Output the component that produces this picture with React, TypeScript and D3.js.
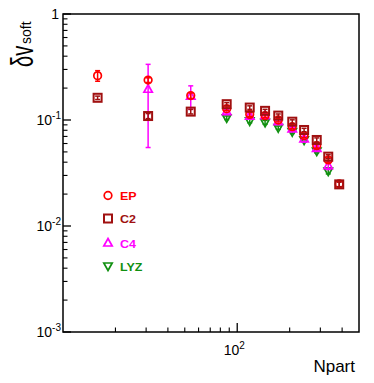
import React from "react";
import * as d3 from "d3";

const npart = [15.8, 30.8, 54.1, 87, 118, 144.5, 172, 207, 242, 286, 333, 385];
const epVal = [0.262, 0.238, 0.17, 0.128, 0.113, 0.11, 0.1, 0.0865, 0.0711, 0.0573, 0.042, 0.0249];
const epErr = [0.03, 0.012, 0.01, 0.005, 0.005, 0.004, 0.004, 0.004, 0.003, 0.003, 0.002, 0.0015];
const c2Val = [0.162, 0.109, 0.12, 0.141, 0.131, 0.122, 0.11, 0.0964, 0.0805, 0.0648, 0.0451, 0.0247];
const c2Err = [0.006, 0.006, 0.006, 0.005, 0.005, 0.004, 0.004, 0.004, 0.003, 0.003, 0.002, 0.0012];
const c4Val = [null, 0.195, 0.168, 0.12, 0.109, 0.11, 0.0965, 0.0822, 0.0662, 0.0541, 0.0371, null];
const c4Err = [null, 0.14, 0.042, 0.006, 0.005, 0.005, 0.005, 0.004, 0.004, 0.003, 0.003, null];
const lyzVal = [null, null, null, 0.105, 0.098, 0.095, 0.0846, 0.0776, 0.0648, 0.051, 0.033, null];
const lyzErr = [null, null, null, 0.004, 0.004, 0.004, 0.003, 0.003, 0.003, 0.002, 0.002, null];

const seriesNames = ["EP", "C2", "C4", "LYZ"];
const seriesColors = ["#ff0000", "#a01010", "#ff00ff", "#109010"];
const yTickLabels = [
  { v: 1, base: "1", sup: "" },
  { v: 0.1, base: "10", sup: "-1" },
  { v: 0.01, base: "10", sup: "-2" },
  { v: 0.001, base: "10", sup: "-3" },
];
const xTickLabels = [{ v: 100, base: "10", sup: "2" }];

const W = 374;
const H = 383;
const M = { left: 63, right: 359, top: 14, bottom: 332 };
const FONT = "'Liberation Sans', Arial, Helvetica, sans-serif";

function Marker({ kind, x, y, color }: { kind: string; x: number; y: number; color: string }) {
  const sw = 1.7;
  if (kind === "EP") return <circle cx={x} cy={y} r={3.8} fill="none" stroke={color} strokeWidth={sw} />;
  if (kind === "C2")
    return <rect x={x - 4} y={y - 4} width={8} height={8} fill="none" stroke={color} strokeWidth={2} />;
  if (kind === "C4") {
    const p = d3.path();
    p.moveTo(x, y - 4.5);
    p.lineTo(x + 4.2, y + 3);
    p.lineTo(x - 4.2, y + 3);
    p.closePath();
    return <path d={p.toString()} fill="none" stroke={color} strokeWidth={sw} />;
  }
  const p = d3.path();
  p.moveTo(x, y + 4.5);
  p.lineTo(x + 4.2, y - 3);
  p.lineTo(x - 4.2, y - 3);
  p.closePath();
  return <path d={p.toString()} fill="none" stroke={color} strokeWidth={sw} />;
}

export default function App() {
  const x = d3.scaleLog().domain([10, 500]).range([M.left, M.right]);
  const y = d3.scaleLog().domain([0.001, 1]).range([M.bottom, M.top]);

  const allVals = [epVal, c2Val, c4Val, lyzVal];
  const allErr = [epErr, c2Err, c4Err, lyzErr];

  const yMinor: number[] = [];
  [0.001, 0.01, 0.1].forEach((d) => {
    for (let k = 2; k <= 9; k++) yMinor.push(d * k);
  });
  const xMinor: number[] = [];
  for (let k = 2; k <= 9; k++) xMinor.push(10 * k);
  for (let k = 2; k <= 4; k++) xMinor.push(100 * k);

  const order = [3, 2, 0, 1];
  const legendY = [195.5, 218.5, 243, 266];

  return (
    <svg width={W} height={H} style={{ position: "absolute", left: 0, top: 0, background: "#fff" }} fontFamily={FONT}>
      <rect x={0} y={0} width={W} height={H} fill="#fff" />
      {[0.001, 0.01, 0.1, 1].map((v) => (
        <line key={"ym" + v} x1={M.left} x2={M.left + 8} y1={y(v)} y2={y(v)} stroke="#000" strokeWidth={1.3} />
      ))}
      {yMinor.map((v) => (
        <line key={"yn" + v} x1={M.left} x2={M.left + 4.5} y1={y(v)} y2={y(v)} stroke="#000" strokeWidth={1.1} />
      ))}
      <line x1={x(100)} x2={x(100)} y1={M.bottom} y2={M.bottom - 9} stroke="#000" strokeWidth={1.3} />
      {xMinor.map((v) => (
        <line key={"xn" + v} x1={x(v)} x2={x(v)} y1={M.bottom} y2={M.bottom - 4.5} stroke="#000" strokeWidth={1.1} />
      ))}
      <rect x={M.left} y={M.top} width={M.right - M.left} height={M.bottom - M.top} fill="none" stroke="#000" strokeWidth={1.5} />

      {yTickLabels.map((t) =>
        t.sup === "" ? (
          <text key={t.base + t.sup} x={59} y={y(t.v) + 5} textAnchor="end" fontSize={14}>
            {t.base}
          </text>
        ) : (
          <text key={t.base + t.sup} x={61} y={y(t.v) + 5} textAnchor="end" fontSize={14}>
            {t.base}
            <tspan fontSize={10} dy={-6}>{t.sup}</tspan>
          </text>
        )
      )}
      {xTickLabels.map((t) => (
        <text key={"x" + t.v} x={x(t.v) - 3} y={355} textAnchor="middle" fontSize={14}>
          {t.base}
          <tspan fontSize={10} dy={-6}>{t.sup}</tspan>
        </text>
      ))}
      <text x={355} y={372} textAnchor="end" fontSize={17}>Npart</text>
      <text transform="translate(33,67) rotate(-90) scale(1,1.55)" fontSize={20}>δv</text>
      <text transform="translate(31,44) rotate(-90)" fontSize={14}>soft</text>

      {order.map((si) => {
        const vals = allVals[si];
        const errs = allErr[si];
        const color = seriesColors[si];
        return (
          <g key={"s" + si}>
            {npart.map((n, i) => {
              const v = vals[i];
              const e = errs[i];
              if (v == null || e == null) return null;
              const px = x(n);
              const hi = y(v + e);
              const lo = y(Math.max(v - e, 1e-4));
              return (
                <g key={i}>
                  <line x1={px} x2={px} y1={hi} y2={lo} stroke={color} strokeWidth={1.5} />
                  <line x1={px - 2.5} x2={px + 2.5} y1={hi} y2={hi} stroke={color} strokeWidth={1.5} />
                  <line x1={px - 2.5} x2={px + 2.5} y1={lo} y2={lo} stroke={color} strokeWidth={1.5} />
                  <Marker kind={seriesNames[si]} x={px} y={y(v)} color={color} />
                </g>
              );
            })}
          </g>
        );
      })}

      {seriesNames.map((name, i) => (
        <g key={"lg" + name}>
          <Marker kind={name} x={108} y={legendY[i]} color={seriesColors[i]} />
          <text
            transform={`translate(120,${legendY[i] + 4.5}) scale(1.25,1)`}
            fontSize={10}
            fontWeight="bold"
            fill={seriesColors[i]}
          >
            {name}
          </text>
        </g>
      ))}
    </svg>
  );
}
